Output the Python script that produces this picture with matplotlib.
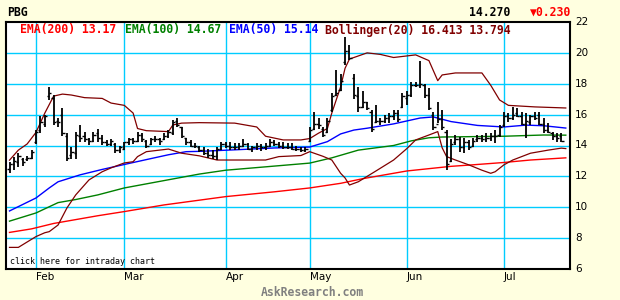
import matplotlib
matplotlib.use("Agg")
import matplotlib.pyplot as plt

# ---- price bars (one per trading day) ----
high = [12.95, 13.25, 13.5, 13.2, 13.3, 13.7, 15.0, 15.9, 16.0, 17.8,
        17.3, 15.8, 16.4, 14.8, 13.9, 14.9, 15.3, 14.9, 14.5, 14.9,
        15.1, 14.7, 14.35, 14.4, 14.15, 14.0, 14.25, 14.5, 14.5, 14.9,
        14.8, 14.35, 14.5, 14.6, 14.5, 14.8, 15.0, 15.65, 15.8, 15.2,
        14.5, 14.35, 14.15, 14.0, 13.9, 13.75, 13.7, 13.9, 14.25, 14.25,
        14.25, 14.15, 14.15, 14.4, 14.15, 14.0, 14.15, 14.1, 14.15, 14.4,
        14.35, 14.25, 14.2, 14.15, 14.15, 14.0, 13.9, 13.9, 15.2, 16.2,
        15.8, 15.2, 15.8, 17.4, 18.9, 18.6, 21.05, 20.5, 18.6, 17.8,
        17.5, 16.85, 16.3, 16.6, 15.8, 16.0, 16.1, 16.3, 16.3, 17.4,
        17.5, 18.1, 18.1, 19.5, 18.0, 17.7, 16.2, 16.85, 16.3, 15.0,
        14.4, 14.7, 14.55, 14.5, 14.35, 14.5, 14.7, 14.7, 14.8, 14.8,
        15.0, 15.35, 16.2, 16.1, 16.5, 16.4, 16.2, 16.1, 16.0, 16.2,
        16.2, 15.8, 15.45, 14.9, 14.8, 14.8]
low = [12.2, 12.4, 12.6, 12.7, 13.0, 13.1, 14.1, 14.8, 15.2, 16.95,
       15.3, 15.2, 14.6, 13.0, 13.1, 13.1, 14.2, 14.2, 14.05, 14.2,
       14.2, 14.05, 13.95, 14.0, 13.5, 13.5, 13.7, 14.05, 14.1, 14.2,
       14.25, 13.85, 14.05, 14.2, 14.05, 14.35, 14.5, 14.7, 15.2, 14.5,
       14.05, 13.9, 13.85, 13.6, 13.4, 13.2, 13.1, 13.05, 13.7, 13.85,
       13.7, 13.7, 13.7, 13.9, 13.7, 13.6, 13.7, 13.65, 13.7, 13.9,
       13.95, 13.85, 13.75, 13.75, 13.7, 13.65, 13.6, 13.6, 14.25, 15.0,
       15.1, 14.55, 14.8, 16.2, 17.2, 17.5, 19.2, 19.55, 17.0, 16.2,
       16.4, 16.3, 14.9, 15.45, 15.3, 15.45, 15.45, 15.65, 15.55, 16.4,
       16.6, 17.15, 17.8, 17.7, 17.1, 16.3, 15.0, 15.45, 15.0, 12.4,
       12.95, 14.05, 13.6, 13.5, 13.7, 13.9, 14.25, 14.25, 14.25, 14.3,
       14.15, 14.55, 15.2, 15.55, 15.65, 15.85, 15.3, 14.5, 15.35, 15.65,
       15.35, 14.8, 14.8, 14.35, 14.25, 14.25]
opens = [12.5, 12.8, 12.9, 13.1, 13.1, 13.2, 14.2, 15.0, 15.4, 17.2,
         17.1, 15.6, 16.0, 14.6, 13.4, 13.5, 14.6, 14.6, 14.4, 14.3,
         14.8, 14.5, 14.2, 14.1, 14.1, 13.7, 13.8, 14.2, 14.4, 14.3,
         14.7, 14.3, 14.1, 14.4, 14.4, 14.4, 14.6, 14.8, 15.6, 15.2,
         14.5, 14.2, 14.0, 13.9, 13.7, 13.5, 13.4, 13.3, 13.8, 14.1,
         14.0, 13.9, 13.9, 14.0, 14.1, 13.8, 13.9, 14.0, 13.9, 14.0,
         14.2, 14.1, 14.0, 13.9, 13.9, 13.8, 13.8, 13.7, 14.3, 15.1,
         15.4, 15.1, 14.9, 16.3, 17.3, 17.6, 19.4, 20.1, 18.4, 17.2,
         16.5, 16.8, 16.2, 15.5, 15.6, 15.6, 15.8, 15.9, 16.1, 16.5,
         17.1, 17.3, 17.9, 17.9, 17.9, 17.3, 16.0, 15.4, 15.7, 14.9,
         13.0, 14.2, 14.4, 13.9, 14.2, 14.0, 14.4, 14.5, 14.4, 14.5,
         14.6, 14.7, 15.3, 15.9, 15.8, 16.1, 15.9, 15.4, 15.5, 15.9,
         16.0, 15.4, 15.0, 14.8, 14.6, 14.6]
closes = [12.8, 13.0, 13.3, 12.9, 13.2, 13.6, 14.9, 15.5, 15.9, 17.4,
          15.5, 15.5, 14.8, 13.2, 13.6, 14.7, 14.5, 14.4, 14.3, 14.7,
          14.5, 14.2, 14.1, 14.3, 13.7, 13.9, 14.2, 14.4, 14.3, 14.7,
          14.4, 14.0, 14.4, 14.4, 14.3, 14.6, 14.9, 15.5, 15.3, 14.6,
          14.2, 14.0, 14.0, 13.7, 13.5, 13.4, 13.3, 13.8, 14.1, 14.0,
          13.9, 13.9, 14.0, 14.1, 13.8, 13.9, 14.0, 13.9, 14.0, 14.2,
          14.1, 14.0, 13.9, 13.9, 13.8, 13.8, 13.7, 13.8, 15.0, 15.4,
          15.3, 14.7, 15.6, 17.2, 17.4, 18.2, 20.1, 19.7, 17.3, 16.5,
          16.8, 16.4, 15.1, 15.6, 15.6, 15.8, 15.9, 16.1, 15.7, 17.2,
          17.3, 17.9, 17.9, 18.0, 17.3, 16.4, 15.2, 15.7, 15.2, 12.8,
          14.1, 14.4, 13.9, 14.2, 13.9, 14.3, 14.5, 14.4, 14.5, 14.6,
          14.6, 15.2, 15.9, 15.8, 16.0, 15.9, 15.4, 15.6, 15.9, 15.8,
          15.4, 15.0, 14.9, 14.6, 14.5, 14.27]

# ---- indicator lines, read at bar positions ----
ema200_day = [0, 5, 10, 20, 26, 35, 49, 60, 68, 75, 80, 90, 100, 105, 112, 118, 126]
ema200_val = [8.37, 8.6, 8.95, 9.45, 9.72, 10.15, 10.69, 11.0, 11.25, 11.55, 11.85,
              12.35, 12.65, 12.75, 12.9, 13.06, 13.2]

ema100_day = [0, 6, 11, 15, 20, 26, 36, 43, 49, 68, 73, 79, 87, 91, 95, 98, 112, 121, 126]
ema100_val = [9.1, 9.63, 10.3, 10.5, 10.8, 11.25, 11.78, 12.15, 12.4, 12.86, 13.2,
              13.7, 14.0, 14.3, 14.5, 14.55, 14.6, 14.68, 14.67]

ema50_day = [0, 6, 9, 11, 16, 21, 26, 32, 36, 40, 43, 51, 60, 68, 72, 75, 78, 81,
             87, 93, 96, 100, 106, 112, 117, 121, 126]
ema50_val = [9.76, 10.6, 11.25, 11.65, 12.1, 12.45, 12.77, 13.15, 13.4, 13.6, 13.62,
             13.72, 13.84, 13.9, 14.25, 14.75, 15.0, 15.12, 15.4, 15.78, 15.85,
             15.55, 15.3, 15.2, 15.32, 15.28, 15.13]

bb_up_day = [0, 2, 4, 6, 8, 10, 12, 14, 17, 21, 23, 26, 28, 29, 31, 36, 37, 39, 43,
             51, 56, 58, 62, 66, 68, 70, 72, 73, 75, 76, 77, 81, 84, 87, 92, 95, 97,
             98, 101, 107, 109, 111, 113, 119, 126]
bb_up_val = [13.05, 13.7, 14.1, 14.85, 16.1, 17.2, 17.33, 17.27, 17.1, 17.05, 16.75,
             16.6, 16.1, 15.1, 14.96, 14.9, 15.33, 15.45, 15.48, 15.45, 15.2, 14.6,
             14.36, 14.36, 14.45, 14.8, 15.1, 16.1, 17.8, 19.0, 19.6, 20.0, 19.9,
             19.7, 19.87, 19.5, 18.2, 18.57, 18.7, 18.7, 17.9, 16.95, 16.6, 16.5,
             16.43]

bb_lo_day = [0, 2, 4, 6, 8, 9, 11, 13, 15, 18, 21, 23, 26, 28, 29, 31, 36, 39, 43,
             47, 58, 61, 66, 68, 71, 73, 75, 76, 77, 79, 83, 87, 90, 92, 95, 97, 98,
             99, 101, 104, 107, 109, 110, 112, 114, 118, 122, 125, 126]
bb_lo_val = [7.4, 7.4, 7.75, 8.1, 8.35, 8.42, 8.85, 9.95, 10.8, 11.77, 12.3, 12.55,
             12.87, 12.95, 13.28, 13.6, 13.77, 13.5, 13.33, 13.06, 13.06, 13.28,
             13.35, 13.6, 13.3, 13.06, 12.2, 11.9, 11.44, 11.65, 12.35, 13.06, 13.8,
             14.36, 14.68, 14.9, 13.85, 13.28, 13.06, 12.75, 12.4, 12.2, 12.3, 12.75,
             13.06, 13.5, 13.7, 13.83, 13.8]

month_day = [6, 26, 49, 68, 90, 112]
month_names = ["Feb", "Mar", "Apr", "May", "Jun", "Jul"]
price_ticks = [6, 8, 10, 12, 14, 16, 18, 20, 22]

BG = "#FFFFE0"
GRID = "#00CCFF"
MAROON = "#800000"
W, H = 620, 300

fig = plt.figure(figsize=(6.2, 3.0), dpi=100, facecolor=BG)
ax = fig.add_axes([6 / W, 31 / H, 564 / W, 247 / H])
ax.set_facecolor("white")

# x is a trading-day index, 4.415 px per day, first bar at x=9.5px
day0_px = 9.5
px_per_day = 4.415
ax.set_xlim((6 - day0_px) / px_per_day, (570 - day0_px) / px_per_day)
ax.set_ylim(6, 22)

for v in price_ticks[1:-1]:
    ax.axhline(v, color=GRID, lw=1.0, zorder=1)
for d in month_day:
    ax.axvline(d, color=GRID, lw=1.0, zorder=1)

days = list(range(len(high)))
ax.vlines(days, low, high, color="black", lw=1.3, zorder=4)
ax.hlines(opens, [d - 0.5 for d in days], days, color="black", lw=1.0, zorder=4)
ax.hlines(closes, days, [d + 0.5 for d in days], color="black", lw=1.0, zorder=4)

ax.plot(ema200_day, ema200_val, color="#FF0000", lw=1.0, zorder=3)
ax.plot(ema100_day, ema100_val, color="#008000", lw=1.0, zorder=3)
ax.plot(ema50_day, ema50_val, color="#0000FF", lw=1.0, zorder=3)
ax.plot(bb_up_day, bb_up_val, color=MAROON, lw=0.9, zorder=3)
ax.plot(bb_lo_day, bb_lo_val, color=MAROON, lw=0.9, zorder=3)

ax.set_xticks([])
ax.set_yticks([])
for s in ax.spines.values():
    s.set_color("black")
    s.set_linewidth(1.5)

mono = "DejaVu Sans Mono"


def ftext(x, y, s, **kw):
    fig.text(x / W, 1 - y / H, s, va="center", **kw)


# price labels on the right
for v in price_ticks:
    ypx = 22 + (22 - v) * 247 / 16
    ftext(575, ypx, str(v), ha="left", fontsize=7.5, family="DejaVu Sans")

# month labels start at their grid line
for d, name in zip(month_day, month_names):
    xpx = day0_px + d * px_per_day
    ftext(xpx, 277, name, ha="left", fontsize=7.5, family="DejaVu Sans")

ftext(7, 12, "PBG", ha="left", fontsize=8.3, family=mono, weight="bold")
ftext(469, 12, "14.270", ha="left", fontsize=8.3, family=mono, weight="bold")
ftext(530, 12, "\u25bc0.230", ha="left", fontsize=8.3, family=mono, weight="bold",
      color="#FF0000")

ftext(20, 30, "EMA(200) 13.17", ha="left", fontsize=8.3, family=mono, weight="bold",
      color="#FF0000")
ftext(125, 30, "EMA(100) 14.67", ha="left", fontsize=8.3, family=mono, weight="bold",
      color="#008000")
ftext(229, 30, "EMA(50) 15.14", ha="left", fontsize=8.3, family=mono, weight="bold",
      color="#0000FF")
ftext(325, 30, "Bollinger(20) 16.413 13.794", ha="left", fontsize=8.3, family=mono,
      weight="bold", color=MAROON)

ftext(10, 262, "click here for intraday chart", ha="left", fontsize=6, family=mono)
ftext(312, 292, "AskResearch.com", ha="center", fontsize=8.3, family=mono,
      weight="bold", color="#808080")

fig.savefig("out.png", dpi=100, facecolor=BG)
